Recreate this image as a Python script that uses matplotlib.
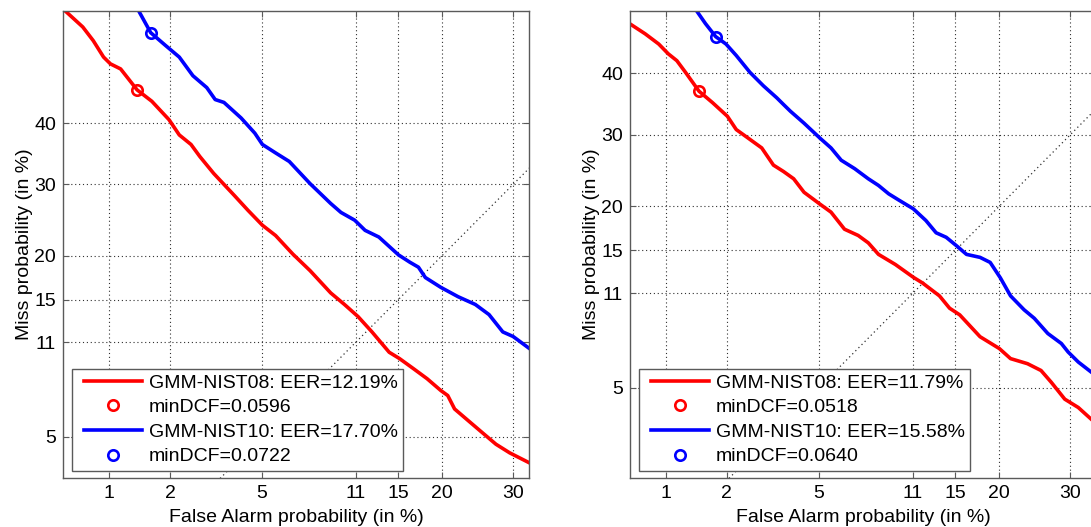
import numpy as np
import matplotlib
matplotlib.use("Agg")
import matplotlib.pyplot as plt
from matplotlib.lines import Line2D
from matplotlib.legend_handler import HandlerLine2D
from statistics import NormalDist

plt.rcParams['font.family'] = ['Liberation Sans', 'DejaVu Sans']

# ---------------- data (percent) ----------------
x_ticks = [1, 2, 5, 11, 15, 20, 30]
y_ticks = [5, 11, 15, 20, 30, 40]

# Left panel
l_red_fa = [0.59, 0.73, 0.83, 0.94, 1.02, 1.15, 1.39, 1.64, 1.98, 2.21, 2.50, 2.74, 3.15, 3.86, 4.40,
            5.03, 5.67, 6.60, 7.64, 9.05, 10.09, 11.21, 12.43, 14.07, 15.12, 16.61, 18.19, 19.85,
            20.72, 21.60, 23.44, 25.37, 27.38, 29.45, 32.54]
l_red_miss = [59.6, 56.9, 54.5, 51.6, 50.4, 49.5, 45.8, 43.8, 40.6, 38.0, 36.4, 34.4, 31.7, 28.3, 26.1,
              24.0, 22.6, 20.2, 18.2, 15.7, 14.5, 13.3, 11.9, 10.2, 9.71, 8.97, 8.26, 7.49,
              7.18, 6.40, 5.77, 5.19, 4.66, 4.30, 3.91]
l_blue_fa = [1.42, 1.62, 1.90, 2.21, 2.55, 2.94, 3.20, 3.49, 4.12, 4.69, 5.03, 5.67, 6.40, 7.64, 9.05,
             9.82, 10.92, 11.81, 13.07, 15.02, 16.23, 17.19, 17.98, 19.85, 22.06, 24.40, 26.36,
             28.40, 29.98, 32.54]
l_blue_miss = [59.6, 55.9, 53.7, 51.6, 48.3, 46.2, 44.1, 43.6, 40.9, 38.3, 36.4, 35.0, 33.6, 30.1, 27.1,
               25.8, 24.7, 23.3, 22.4, 20.1, 19.2, 18.6, 17.4, 16.3, 15.3, 14.5, 13.5,
               11.9, 11.5, 10.5]
l_red_dcf = (1.39, 45.8)
l_blue_dcf = (1.62, 55.9)
l_labels = ["GMM-NIST08: EER=12.19%", "minDCF=0.0596", "GMM-NIST10: EER=17.70%", "minDCF=0.0722"]

# Right panel
r_red_fa = [0.65, 0.78, 0.92, 1.03, 1.14, 1.26, 1.47, 1.71, 2.01, 2.21, 2.50, 2.88, 3.24, 3.58, 3.95,
            4.36, 5.05, 5.59, 6.30, 7.09, 7.72, 8.40, 9.62, 11.06, 11.84, 13.41, 14.41, 15.46,
            17.71, 20.04, 21.46, 23.73, 25.63, 27.11, 29.15, 31.25, 33.31]
r_red_miss = [48.6, 46.9, 45.1, 43.4, 42.2, 40.2, 37.0, 35.1, 32.9, 30.8, 29.5, 28.0, 25.5, 24.6, 23.6,
              21.8, 20.3, 19.3, 17.3, 16.6, 15.8, 14.6, 13.6, 12.4, 11.9, 10.8, 9.82, 9.32,
              7.81, 7.07, 6.49, 6.21, 5.85, 5.27, 4.51, 4.17, 3.73]
r_blue_fa = [1.44, 1.58, 1.77, 1.98, 2.21, 2.55, 2.93, 3.35, 3.58, 3.83, 4.36, 5.05, 5.59, 6.12, 6.88,
             7.72, 8.40, 9.12, 9.88, 11.06, 12.15, 13.09, 14.07, 15.11, 16.19, 17.71, 18.91,
             20.16, 21.46, 23.26, 24.67, 26.61, 28.63, 29.66, 31.25, 33.31]
r_blue_miss = [50.8, 48.7, 46.4, 45.1, 43.1, 40.2, 37.9, 35.9, 34.8, 33.7, 31.8, 29.5, 28.0, 26.2, 25.0,
               23.6, 22.7, 21.6, 20.8, 19.7, 18.3, 16.9, 16.4, 15.5, 14.6, 14.3, 13.8,
               12.35, 10.8, 9.70, 9.07, 8.02, 7.38, 6.87, 6.30, 5.77]
r_red_dcf = (1.47, 37.0)
r_blue_dcf = (1.77, 46.4)
r_labels = ["GMM-NIST08: EER=11.79%", "minDCF=0.0518", "GMM-NIST10: EER=15.58%", "minDCF=0.0640"]

# ---------------- probit scale ----------------
_nd = NormalDist()
_inv_cdf = np.vectorize(_nd.inv_cdf, otypes=[float])
_cdf = np.vectorize(_nd.cdf, otypes=[float])


def fwd(p):
    p = np.asarray(p, dtype=float)
    q = np.clip(p / 100.0, 1e-9, 1 - 1e-9)
    q = np.where(np.isnan(q), 0.5, q)
    return _inv_cdf(q)


def inv(z):
    z = np.asarray(z, dtype=float)
    return _cdf(z) * 100.0


RED = '#ff0000'
BLUE = '#0000ff'
SPINE = '#5a5a5a'
FS = 14

fig = plt.figure(figsize=(10.91, 5.27), dpi=100)


def panel(rect, xlim, ylim, rfa, rmiss, bfa, bmiss, rdcf, bdcf, labels):
    ax = fig.add_axes(rect)
    ax.set_xscale('function', functions=(fwd, inv))
    ax.set_yscale('function', functions=(fwd, inv))
    ax.set_xlim(*xlim)
    ax.set_ylim(*ylim)
    ax.set_xticks(x_ticks, [str(v) for v in x_ticks])
    ax.set_yticks(y_ticks, [str(v) for v in y_ticks])
    ax.minorticks_off()
    ax.grid(True, linestyle=(0, (1, 2.5)), color='#303030', linewidth=0.8)
    ax.set_axisbelow(True)
    ax.tick_params(direction='in', length=4, width=0.8, color=SPINE, labelsize=FS,
                   top=True, right=True, pad=5)
    for s in ax.spines.values():
        s.set_color(SPINE)
        s.set_linewidth(1.0)
    ax.plot([0.01, 99], [0.01, 99], linestyle=(0, (1, 2.5)), color='#303030', linewidth=0.9)
    h1, = ax.plot(rfa, rmiss, color=RED, linewidth=2.6, label=labels[0])
    h2, = ax.plot([rdcf[0]], [rdcf[1]], linestyle='none', marker='o', markersize=7.5,
                  markerfacecolor='none', markeredgecolor=RED, markeredgewidth=1.9, label=labels[1])
    h3, = ax.plot(bfa, bmiss, color=BLUE, linewidth=2.6, label=labels[2])
    h4, = ax.plot([bdcf[0]], [bdcf[1]], linestyle='none', marker='o', markersize=7.5,
                  markerfacecolor='none', markeredgecolor=BLUE, markeredgewidth=1.9, label=labels[3])
    ax.set_xlabel("False Alarm probability (in %)", fontsize=FS, labelpad=5)
    ax.set_ylabel("Miss probability (in %)", fontsize=FS, labelpad=1)
    leg = ax.legend(handles=[h1, h2, h3, h4], loc='lower left', bbox_to_anchor=(0.0184, 0.0158),
                    borderaxespad=0, fontsize=FS, fancybox=False, framealpha=1,
                    borderpad=0.27, labelspacing=0.36, handlelength=3.36, handletextpad=0.33,
                    numpoints=1, handler_map={Line2D: HandlerLine2D(xpad=0.38)})
    leg.get_frame().set_edgecolor(SPINE)
    leg.get_frame().set_linewidth(1.0)
    return ax


H = 467 / 527
W = 466.3 / 1091
B = (527 - 478.1) / 527
panel([63 / 1091, B, W, H], (0.570, 32.53), (3.37, 59.65),
      l_red_fa, l_red_miss, l_blue_fa, l_blue_miss, l_red_dcf, l_blue_dcf, l_labels)
panel([630 / 1091, B, W, H], (0.647, 34.14), (2.05, 50.9),
      r_red_fa, r_red_miss, r_blue_fa, r_blue_miss, r_red_dcf, r_blue_dcf, r_labels)

fig.savefig("out.png", dpi=100)
